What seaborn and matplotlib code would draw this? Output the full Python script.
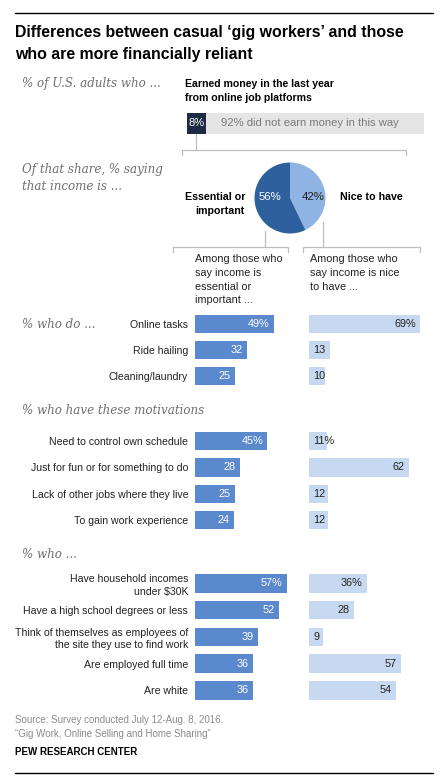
import matplotlib
matplotlib.use("Agg")
import matplotlib.pyplot as plt
from matplotlib.lines import Line2D
import seaborn as sns

# data
earned_yes = 8
earned_no = 92
income_nice = 42
income_essential = 56

do_cats = ["Online tasks", "Ride hailing", "Cleaning/laundry"]
do_essential = [49, 32, 25]
do_nice = [69, 13, 10]

mot_cats = ["Need to control own schedule", "Just for fun or for something to do",
            "Lack of other jobs where they live", "To gain work experience"]
mot_essential = [45, 28, 25, 24]
mot_nice = [11, 62, 12, 12]

who_cats = ["Have household incomes\nunder $30K", "Have a high school degrees or less",
            "Think of themselves as employees of\nthe site they use to find work",
            "Are employed full time", "Are white"]
who_essential = [57, 52, 39, 36, 36]
who_nice = [36, 28, 9, 57, 54]

sns.set_style("white")
plt.rcParams['font.family'] = ['Liberation Sans', 'DejaVu Sans']

W, H = 448, 782
fig = plt.figure(figsize=(W / 100, H / 100), dpi=100)
fig.patch.set_facecolor("white")

C_ESS = "#5b89cd"
C_NICE = "#c6d9f0"
C_PIE_D = "#2d609d"
C_PIE_L = "#8fb4e3"
C_NAVY = "#1c2a43"
C_GRAY = "#e5e5e5"
C_LINE = "#bdbdbd"
C_TXT = "#222222"
C_ITAL = "#6f6f6f"
PX_PER_PT = 1.61
FS = 7.8
FS_CAT = 7.6


def fx(x):
    return x / W


def fy(y):
    return 1 - y / H


def txt(x, y, s, **kw):
    kw.setdefault("va", "center")
    kw.setdefault("color", C_TXT)
    kw.setdefault("fontsize", FS)
    fig.text(fx(x), fy(y), s, **kw)


def ital(x, y, s):
    fig.text(fx(x), fy(y), s, fontsize=8.6, color=C_ITAL, style="italic",
             family="DejaVu Serif", va="center", linespacing=1.45)


def line(xs, ys, color=C_LINE, lw=0.9):
    fig.add_artist(Line2D([fx(v) for v in xs], [fy(v) for v in ys],
                          transform=fig.transFigure, color=color, lw=lw))


# rules and title
line([15, 433], [13, 13], color="black", lw=1.0)
line([15, 433], [773, 773], color="black", lw=1.0)
txt(15, 33, "Differences between casual \u2018gig workers\u2019 and those",
    fontsize=11.4, weight="bold", color="black")
txt(15, 55, "who are more financially reliant", fontsize=11.4, weight="bold", color="black")

# top stacked bar
ital(22, 84, "% of U.S. adults who ...")
txt(185, 84, "Earned money in the last year", weight="bold", fontsize=7.6, color="black")
txt(185, 98, "from online job platforms", weight="bold", fontsize=7.6, color="black")
ax0 = fig.add_axes([fx(187), fy(134), (424 - 187) / W, 21 / H])
sns.barplot(x=[earned_yes + earned_no], y=["earned"], orient="h", color=C_GRAY,
            saturation=1, width=1, linewidth=0, ax=ax0)
sns.barplot(x=[earned_yes], y=["earned"], orient="h", color=C_NAVY,
            saturation=1, width=1, linewidth=0, ax=ax0)
ax0.set_xlim(0, earned_yes + earned_no)
ax0.set_ylim(0.5, -0.5)
ax0.set_axis_off()
ax0.text(0.6, 0, f"{earned_yes}%", color="white", fontsize=8, va="center", ha="left")
ax0.text(earned_yes + 6.5, 0, f"{earned_no}% did not earn money in this way",
         color="#7a7a7a", fontsize=8.1, va="center", ha="left")

# bracket from top bar to pie
line([196, 196], [134, 150])
line([182, 406], [150, 150])
line([182, 182], [150, 155])
line([406, 406], [150, 155])

# pie
ital(22, 178, "Of that share, % saying\nthat income is ...")
r = 35.5
cx, cy = 290, 198
axp = fig.add_axes([fx(cx - r), fy(cy + r), 2 * r / W, 2 * r / H])
axp.pie([income_nice, income_essential], colors=[C_PIE_L, C_PIE_D], startangle=90,
        counterclock=False, wedgeprops=dict(linewidth=0))
axp.set_xlim(-1, 1)
axp.set_ylim(-1, 1)
axp.set_aspect("auto")
txt(270, 197, f"{income_essential}%", color="white", ha="center", fontsize=8.2)
txt(313, 197, f"{income_nice}%", color=C_TXT, ha="center", fontsize=8.2)
txt(245, 197, "Essential or", ha="right", weight="bold", fontsize=7.7, color="black")
txt(245, 211, "important", ha="right", weight="bold", fontsize=7.7, color="black")
txt(340, 197, "Nice to have", ha="left", weight="bold", fontsize=7.7, color="black")

# brackets below pie
line([265, 265], [231, 247])
line([173, 288], [247, 247])
line([173, 173], [247, 252])
line([288, 288], [247, 252])
line([323, 323], [222, 247])
line([303, 420], [247, 247])
line([303, 303], [247, 252])
line([420, 420], [247, 252])

for i, s in enumerate(["Among those who", "say income is", "essential or", "important ..."]):
    txt(195, 259 + i * 13.8, s)
for i, s in enumerate(["Among those who", "say income is nice", "to have ..."]):
    txt(310, 259 + i * 13.8, s)


def bar_panel(cats, values, x0, y_top, row_h, xmax, color, side):
    n = len(cats)
    ax = fig.add_axes([fx(x0), fy(y_top + n * row_h), xmax * PX_PER_PT / W, n * row_h / H])
    sns.barplot(x=values, y=cats, orient="h", color=color, saturation=1,
                width=0.7, linewidth=0, ax=ax)
    ax.set_xlim(0, xmax)
    ax.set_ylim(n - 0.5, -0.5)
    ax.patch.set_visible(False)
    for sp in ax.spines.values():
        sp.set_visible(False)
    ax.set_xticks([])
    ax.set_xlabel("")
    ax.set_ylabel("")
    if side == "left":
        ax.tick_params(axis="y", length=0, pad=5, labelsize=FS_CAT, labelcolor=C_TXT)
        for lab in ax.get_yticklabels():
            lab.set_linespacing(1.3)
    else:
        ax.set_yticks([])
    for i, v in enumerate(values):
        s = f"{v}%" if i == 0 else f"{v}"
        if side == "left":
            ax.annotate(s, (v, i), xytext=(-3, 0), textcoords="offset points",
                        ha="right", va="center", color="white", fontsize=FS)
        elif v >= 20:
            ax.annotate(s, (v, i), xytext=(-3.2, 0), textcoords="offset points",
                        ha="right", va="center", color=C_TXT, fontsize=FS)
        else:
            ax.annotate(s, (0, i), xytext=(3, 0), textcoords="offset points",
                        ha="left", va="center", color=C_TXT, fontsize=FS)
    return ax


ital(22, 324, "% who do ...")
bar_panel(do_cats, do_essential, 195, 311, 26, 60, C_ESS, "left")
bar_panel(do_cats, do_nice, 309, 311, 26, 75, C_NICE, "right")

ital(22, 411, "% who have these motivations")
bar_panel(mot_cats, mot_essential, 195, 428, 26.3, 60, C_ESS, "left")
bar_panel(mot_cats, mot_nice, 309, 428, 26.3, 75, C_NICE, "right")

ital(22, 554, "% who ...")
bar_panel(who_cats, who_essential, 195, 570, 26.75, 60, C_ESS, "left")
bar_panel(who_cats, who_nice, 309, 570, 26.75, 75, C_NICE, "right")

# footer
txt(15, 727, "Source: Survey conducted July 12-Aug. 8, 2016.\n\u201cGig Work, Online Selling and Home Sharing\u201d",
    color="#8a8a8a", fontsize=7, linespacing=1.45)
txt(15, 752, "PEW RESEARCH CENTER", weight="bold", fontsize=7, color="black")

fig.savefig("out.png", dpi=100, facecolor="white")
